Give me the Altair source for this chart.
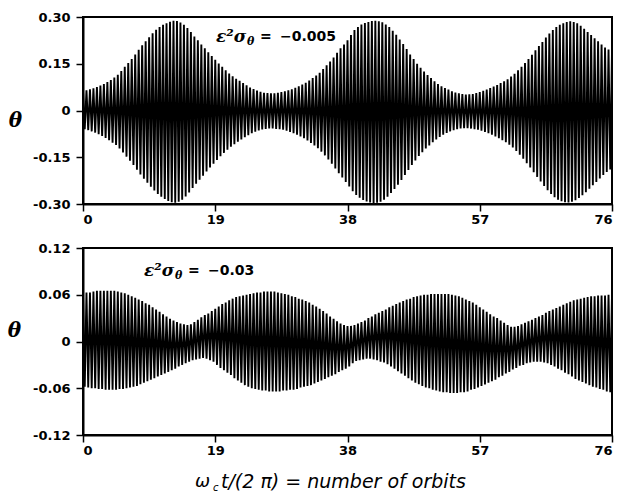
import altair as alt
import pandas as pd

# ---------------- data ----------------
orbit_ticks = [0, 19, 38, 57, 76]
top_ticks = [-0.30, -0.15, 0, 0.15, 0.30]
bot_ticks = [-0.12, -0.06, 0, 0.06, 0.12]

# upper extrema at orbit = 0, 0.5, 1.0, ... 76
top_upper = [0.063, 0.065, 0.068, 0.071, 0.075, 0.080, 0.085, 0.091, 0.098, 0.106,
             0.115, 0.127, 0.140, 0.152, 0.165, 0.180, 0.195, 0.209, 0.222, 0.235,
             0.248, 0.259, 0.268, 0.275, 0.280, 0.285, 0.288, 0.287, 0.282, 0.275,
             0.265, 0.252, 0.237, 0.225, 0.212, 0.200, 0.187, 0.175, 0.163, 0.151,
             0.140, 0.129, 0.119, 0.110, 0.102, 0.095, 0.088, 0.081, 0.074, 0.069,
             0.064, 0.060, 0.057, 0.056, 0.055, 0.055, 0.057, 0.059, 0.062, 0.065,
             0.068, 0.073, 0.078, 0.083, 0.089, 0.096, 0.104, 0.112, 0.121, 0.133,
             0.145, 0.157, 0.170, 0.185, 0.200, 0.212, 0.225, 0.242, 0.258, 0.268,
             0.276, 0.281, 0.284, 0.287, 0.288, 0.286, 0.283, 0.276, 0.268, 0.256,
             0.243, 0.228, 0.213, 0.197, 0.180, 0.165, 0.150, 0.137, 0.125, 0.114,
             0.104, 0.094, 0.085, 0.078, 0.072, 0.067, 0.062, 0.058, 0.055, 0.053,
             0.051, 0.052, 0.053, 0.056, 0.059, 0.063, 0.067, 0.072, 0.077, 0.082,
             0.088, 0.094, 0.100, 0.109, 0.118, 0.129, 0.140, 0.152, 0.165, 0.179,
             0.193, 0.207, 0.220, 0.234, 0.247, 0.258, 0.268, 0.275, 0.280, 0.284,
             0.286, 0.284, 0.280, 0.272, 0.262, 0.252, 0.242, 0.232, 0.222, 0.212,
             0.202, 0.196, 0.190]
# lower extrema at orbit = 0.25, 0.75, ... 75.75
top_lower = [-0.060, -0.063, -0.067, -0.071, -0.076, -0.082, -0.088, -0.095, -0.103, -0.111,
             -0.122, -0.135, -0.148, -0.161, -0.175, -0.190, -0.205, -0.219, -0.232, -0.245,
             -0.257, -0.268, -0.277, -0.284, -0.290, -0.294, -0.296, -0.293, -0.286, -0.276,
             -0.263, -0.249, -0.235, -0.222, -0.209, -0.196, -0.183, -0.171, -0.159, -0.147,
             -0.136, -0.126, -0.116, -0.108, -0.100, -0.093, -0.086, -0.079, -0.073, -0.068,
             -0.064, -0.061, -0.059, -0.058, -0.058, -0.059, -0.060, -0.062, -0.065, -0.069,
             -0.073, -0.078, -0.083, -0.089, -0.096, -0.104, -0.112, -0.121, -0.132, -0.144,
             -0.157, -0.171, -0.186, -0.201, -0.215, -0.229, -0.244, -0.259, -0.271, -0.280,
             -0.287, -0.292, -0.295, -0.297, -0.296, -0.293, -0.286, -0.277, -0.265, -0.252,
             -0.238, -0.223, -0.207, -0.191, -0.175, -0.160, -0.146, -0.134, -0.122, -0.112,
             -0.102, -0.093, -0.085, -0.078, -0.072, -0.067, -0.063, -0.060, -0.058, -0.057,
             -0.057, -0.058, -0.060, -0.062, -0.065, -0.069, -0.073, -0.078, -0.083, -0.089,
             -0.095, -0.102, -0.110, -0.119, -0.130, -0.142, -0.155, -0.169, -0.183, -0.198,
             -0.213, -0.228, -0.242, -0.256, -0.268, -0.278, -0.286, -0.291, -0.294, -0.295,
             -0.293, -0.288, -0.281, -0.272, -0.262, -0.251, -0.240, -0.229, -0.218, -0.207,
             -0.197, -0.189]

bot_upper = [0.062, 0.063, 0.063, 0.064, 0.065, 0.065, 0.065, 0.065, 0.065, 0.065,
             0.064, 0.063, 0.062, 0.060, 0.058, 0.056, 0.054, 0.052, 0.049, 0.047,
             0.044, 0.041, 0.038, 0.035, 0.032, 0.029, 0.027, 0.025, 0.023, 0.022,
             0.021, 0.022, 0.025, 0.028, 0.031, 0.034, 0.036, 0.039, 0.042, 0.045,
             0.048, 0.050, 0.053, 0.055, 0.057, 0.058, 0.059, 0.060, 0.061, 0.062,
             0.063, 0.063, 0.064, 0.064, 0.064, 0.064, 0.063, 0.062, 0.061, 0.060,
             0.058, 0.057, 0.055, 0.054, 0.052, 0.050, 0.047, 0.045, 0.042, 0.039,
             0.036, 0.032, 0.029, 0.026, 0.023, 0.021, 0.020, 0.020, 0.021, 0.023,
             0.025, 0.027, 0.030, 0.032, 0.035, 0.037, 0.039, 0.041, 0.044, 0.046,
             0.048, 0.050, 0.052, 0.054, 0.055, 0.057, 0.058, 0.059, 0.060, 0.060,
             0.061, 0.061, 0.061, 0.061, 0.061, 0.061, 0.060, 0.059, 0.058, 0.056,
             0.054, 0.052, 0.050, 0.047, 0.044, 0.041, 0.038, 0.035, 0.032, 0.030,
             0.027, 0.024, 0.021, 0.019, 0.019, 0.020, 0.022, 0.024, 0.026, 0.028,
             0.030, 0.032, 0.034, 0.037, 0.039, 0.041, 0.043, 0.045, 0.047, 0.049,
             0.051, 0.053, 0.054, 0.055, 0.056, 0.057, 0.058, 0.058, 0.059, 0.059,
             0.059, 0.060, 0.060]
bot_lower = [-0.058, -0.059, -0.060, -0.060, -0.061, -0.061, -0.062, -0.062, -0.062, -0.062,
             -0.061, -0.061, -0.060, -0.059, -0.058, -0.057, -0.055, -0.053, -0.051, -0.049,
             -0.047, -0.045, -0.043, -0.041, -0.039, -0.037, -0.035, -0.032, -0.030, -0.028,
             -0.026, -0.024, -0.023, -0.022, -0.021, -0.022, -0.024, -0.026, -0.030, -0.034,
             -0.037, -0.040, -0.043, -0.047, -0.050, -0.053, -0.056, -0.058, -0.060, -0.061,
             -0.062, -0.063, -0.063, -0.064, -0.064, -0.064, -0.064, -0.063, -0.063, -0.062,
             -0.062, -0.061, -0.059, -0.058, -0.057, -0.056, -0.054, -0.052, -0.050, -0.048,
             -0.046, -0.044, -0.042, -0.039, -0.037, -0.035, -0.032, -0.028, -0.025, -0.024,
             -0.023, -0.022, -0.022, -0.023, -0.024, -0.026, -0.027, -0.029, -0.032, -0.035,
             -0.038, -0.041, -0.044, -0.047, -0.050, -0.053, -0.055, -0.057, -0.059, -0.060,
             -0.062, -0.063, -0.064, -0.065, -0.065, -0.066, -0.066, -0.066, -0.065, -0.065,
             -0.064, -0.062, -0.061, -0.059, -0.057, -0.055, -0.053, -0.051, -0.049, -0.046,
             -0.044, -0.041, -0.039, -0.036, -0.034, -0.031, -0.030, -0.028, -0.027, -0.026,
             -0.026, -0.026, -0.027, -0.028, -0.030, -0.032, -0.035, -0.037, -0.040, -0.042,
             -0.045, -0.048, -0.050, -0.052, -0.054, -0.056, -0.058, -0.059, -0.061, -0.062,
             -0.064, -0.065]

top_note = ["ε²σ", "θ", "=", "−0.005"]
bot_note = ["ε²σ", "θ", "=", "−0.03"]
x_title_parts = ["ω", "c", "t/(2 π) = number of  orbits"]
y_title = "θ"

# ---------------- build ----------------
W, H = 529, 187
SANS = "DejaVu Sans"
SERIF = "DejaVu Serif"


def table(upper, lower):
    rows = [{"orbit": 0.5 * i, "theta": v} for i, v in enumerate(upper)]
    rows += [{"orbit": 0.25 + 0.5 * i, "theta": v} for i, v in enumerate(lower)]
    return pd.DataFrame(rows).sort_values("orbit").reset_index(drop=True)


def txt(s, x, y, font, size, style="normal", weight="bold"):
    return alt.Chart(pd.DataFrame({"t": [s]})).mark_text(
        align="left", baseline="middle", font=font, fontSize=size,
        fontStyle=style, fontWeight=weight, color="black"
    ).encode(x=alt.value(x), y=alt.value(y), text="t:N")


def panel(upper, lower, ticks, title_x, title_y, note, nx, ny, show_x_title):
    lim = max(abs(t) for t in ticks)
    x_axis = alt.Axis(values=orbit_ticks, format="d", title=None, grid=False,
                      labelPadding=2)
    y_axis = alt.Axis(values=ticks, grid=False, title=y_title,
                      labelExpr="datum.value == 0 ? '0' : replace(format(datum.value, '.2f'), '−', '-')",
                      titleAngle=0, titleX=title_x, titleY=title_y,
                      titleAlign="center", titleBaseline="middle",
                      titleFont=SERIF, titleFontStyle="italic", titleFontWeight="bold",
                      titleFontSize=20, labelPadding=6)
    line = alt.Chart(table(upper, lower)).mark_line(
        color="black", strokeWidth=1.9, clip=True
    ).encode(
        x=alt.X("orbit:Q", scale=alt.Scale(domain=[0, 76], nice=False), axis=x_axis),
        y=alt.Y("theta:Q", scale=alt.Scale(domain=[-lim, lim], nice=False), axis=y_axis),
    )
    layers = [
        line,
        txt(note[0], nx, ny, SERIF, 17, "italic"),
        txt(note[1], nx + 31, ny + 5, SERIF, 11, "italic"),
        txt(note[2], nx + 44, ny, SANS, 14),
        txt(note[3], nx + 64, ny, SANS, 14),
    ]
    if show_x_title:
        layers += [
            txt(x_title_parts[0], 112, 234, SANS, 18, "italic", "normal"),
            txt(x_title_parts[1], 130, 240, SANS, 10, "italic", "normal"),
            txt(x_title_parts[2], 138, 234, SANS, 19, "italic", "normal"),
        ]
    return alt.layer(*layers).properties(width=W, height=H)


top = panel(top_upper, top_lower, top_ticks, -68, 103, top_note, 133, 20, False)
bottom = panel(bot_upper, bot_lower, bot_ticks, -69, 82, bot_note, 61, 23, True)

chart = alt.vconcat(top, bottom, spacing=14).properties(
    padding={"left": 6, "top": 10, "right": 5, "bottom": 2},
    background="white",
).configure_view(
    stroke="black", strokeWidth=2
).configure_axis(
    domainColor="black", domainWidth=2, tickColor="black", tickWidth=1.5,
    tickSize=7, labelFont=SANS, labelFontWeight="bold", labelFontSize=13,
    labelColor="black"
)

chart.save("out.html", embed_options={"renderer": "svg", "actions": False})
